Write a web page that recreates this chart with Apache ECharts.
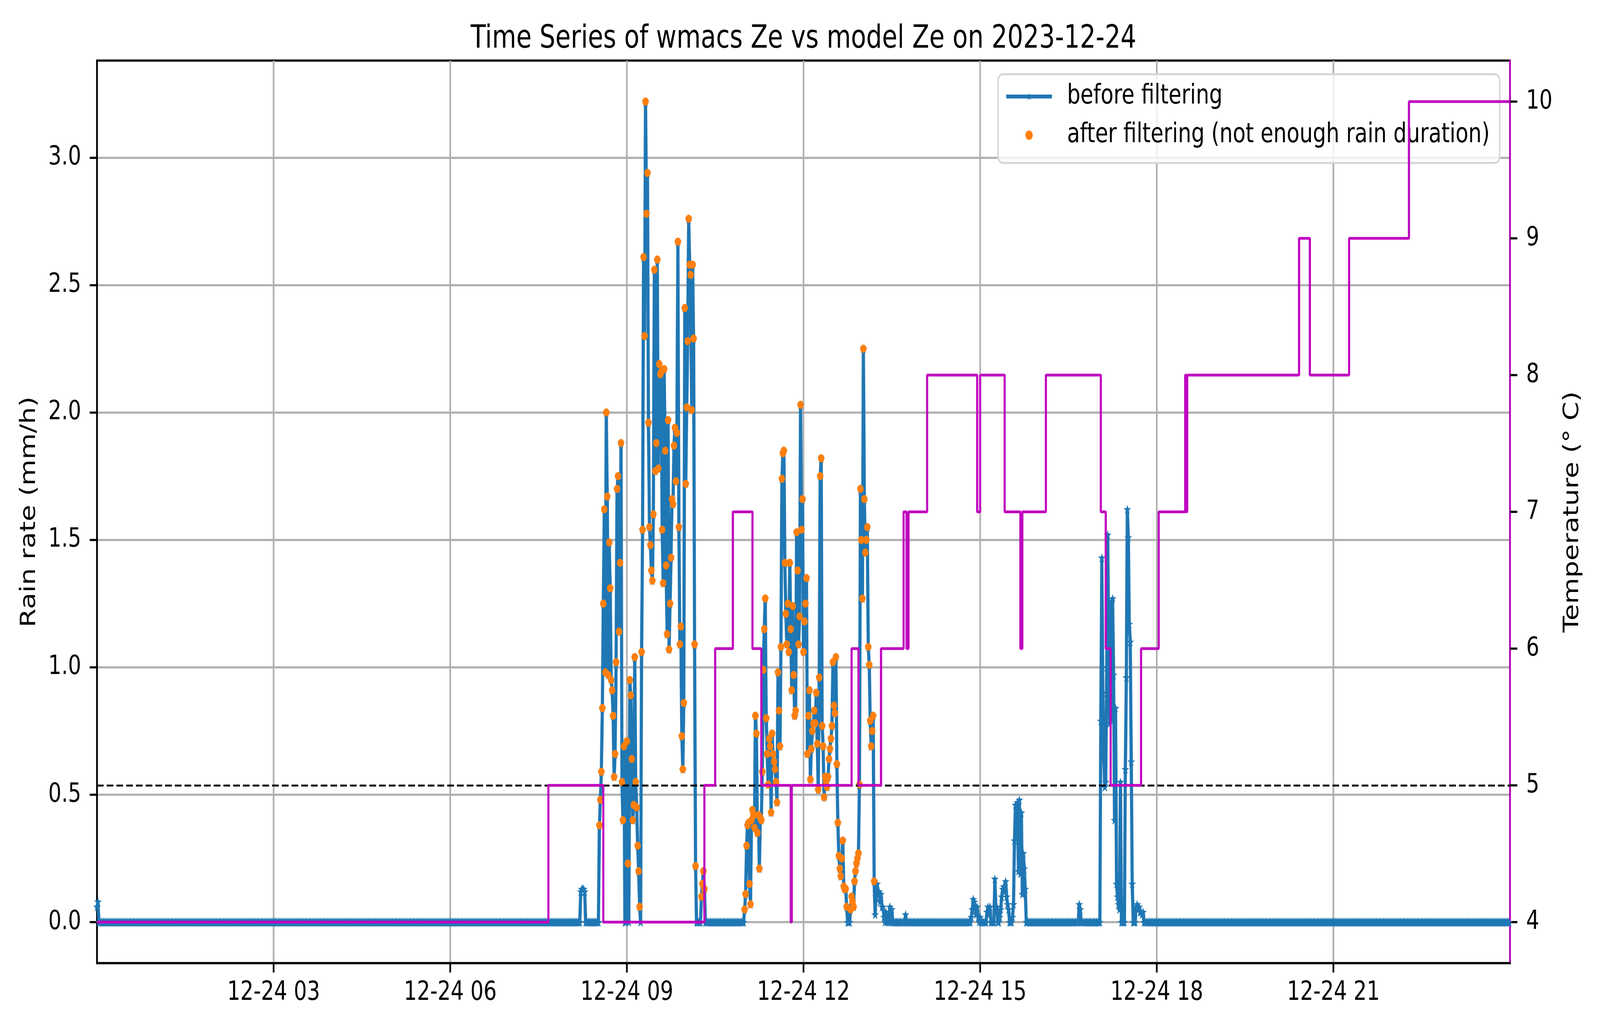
<!DOCTYPE html>
<html>
<head>
<meta charset="utf-8">
<script src="https://cdn.jsdelivr.net/npm/echarts@6/dist/echarts.min.js"></script>
<style>
  html, body { margin: 0; padding: 0; background: #fff; overflow: hidden; }
  #chart { width: 5263px; height: 2631px; transform-origin: 0 0; }
</style>
</head>
<body>
<div id="chart"></div>
<script>
// tick labels
const xTickHours = [3, 6, 9, 12, 15, 18, 21];
const rainTicks = [0, 0.5, 1.0, 1.5, 2.0, 2.5, 3.0];
const tempTicks = [4, 5, 6, 7, 8, 9, 10];

// rain rate (mm/h), one value per minute from each start time; other minutes read as 0
const rainEventStarts = ['00:00', '08:12', '08:31', '10:59', '13:43', '14:50', '16:40', '17:01'];
const rainAtMidnight = [0.06, 0.08, 0.00];
const rainEarlyBlip = [0.00, 0.12, 0.13, 0.13, 0.13, 0.12, 0.00];
const rainMorning = [
  0.00, 0.38, 0.48, 0.59, 0.84, 1.25, 1.62, 0.98, 2.00, 1.67,
  0.97, 1.49, 1.31, 0.95, 0.91, 0.81, 0.57, 0.66, 1.02, 1.70,
  1.75, 1.14, 1.41, 1.88, 0.55, 0.40, 0.69, 0.00, 0.00, 0.71,
  0.23, 0.00, 0.95, 0.89, 0.64, 0.40, 0.46, 1.04, 0.55, 0.45,
  0.30, 0.20, 0.06, 0.00, 1.06, 1.54, 2.61, 2.30, 3.22, 2.78,
  2.94, 1.96, 1.55, 1.48, 1.38, 1.34, 1.60, 2.56, 1.77, 1.88,
  2.60, 1.78, 2.19, 2.15, 2.16, 1.54, 1.33, 2.17, 1.85, 1.40,
  1.13, 1.97, 1.07, 1.25, 1.43, 1.66, 1.64, 1.87, 1.94, 1.73,
  1.92, 2.67, 1.55, 1.09, 1.16, 0.73, 0.60, 0.86, 2.41, 1.72,
  2.02, 2.28, 2.76, 2.58, 2.54, 2.01, 2.58, 2.29, 1.09, 0.22,
  0.00, 0.00, 0.00, 0.00, 0.00, 0.10, 0.15, 0.20, 0.13, 0.00
];
const rainMidday = [
  0.00, 0.05, 0.11, 0.30, 0.38, 0.39, 0.15, 0.07, 0.40, 0.44,
  0.42, 0.37, 0.81, 0.74, 0.35, 0.42, 0.21, 0.41, 0.40, 0.59,
  0.99, 1.15, 1.27, 0.80, 0.66, 0.54, 0.72, 0.69, 0.43, 0.74,
  0.66, 0.63, 0.60, 0.55, 0.47, 0.98, 0.83, 0.69, 1.08, 1.74,
  1.84, 1.85, 1.41, 1.21, 1.09, 1.25, 1.06, 1.41, 1.15, 0.91,
  1.24, 0.97, 0.81, 0.83, 1.53, 1.38, 1.09, 1.20, 2.03, 1.54,
  1.66, 1.06, 1.18, 1.25, 1.35, 0.66, 0.81, 0.91, 0.56, 0.68,
  0.75, 0.78, 0.83, 0.78, 0.90, 0.70, 0.52, 0.96, 1.75, 1.82,
  0.77, 0.69, 0.49, 0.57, 0.55, 0.53, 0.57, 0.64, 0.68, 0.72,
  0.77, 1.02, 0.85, 0.82, 1.04, 0.62, 0.39, 0.26, 0.21, 0.18,
  0.25, 0.32, 0.14, 0.13, 0.13, 0.06, 0.00, 0.00, 0.00, 0.05,
  0.10, 0.08, 0.06, 0.16, 0.20, 0.23, 0.25, 0.27, 0.54, 1.70,
  1.50, 1.27, 2.25, 1.66, 1.45, 1.50, 1.55, 1.08, 1.01, 0.79,
  0.69, 0.75, 0.81, 0.16, 0.03, 0.10, 0.15, 0.12, 0.12, 0.08,
  0.11, 0.06, 0.06, 0.02, 0.00, 0.04, 0.00, 0.02, 0.00, 0.06,
  0.00, 0.05, 0.00
];
const rainAfternoonBlip = [0.00, 0.03, 0.00];
const rainAfternoon = [
  0.00, 0.02, 0.05, 0.09, 0.08, 0.06, 0.03, 0.06, 0.02, 0.00,
  0.02, 0.00, 0.00, 0.00, 0.00, 0.00, 0.00, 0.04, 0.06, 0.03,
  0.06, 0.00, 0.00, 0.00, 0.00, 0.17, 0.06, 0.06, 0.00, 0.00,
  0.02, 0.05, 0.10, 0.13, 0.14, 0.12, 0.16, 0.10, 0.07, 0.05,
  0.00, 0.00, 0.00, 0.02, 0.07, 0.32, 0.46, 0.33, 0.47, 0.20,
  0.48, 0.19, 0.43, 0.11, 0.27, 0.21, 0.13, 0.00
];
const rainLateBlip = [0.00, 0.07, 0.05, 0.00];
const rainEvening = [
  0.00, 0.00, 0.79, 1.43, 0.90, 0.65, 0.53, 0.55, 1.00, 1.52,
  1.09, 0.78, 0.80, 1.26, 1.27, 0.97, 0.40, 0.84, 0.15, 0.10,
  0.07, 0.05, 0.55, 0.00, 0.00, 0.00, 0.00, 0.60, 0.96, 1.62,
  1.51, 1.17, 1.10, 0.63, 0.15, 0.00, 0.00, 0.00, 0.06, 0.07,
  0.05, 0.06, 0.04, 0.04, 0.03, 0.04, 0.00
];
const rainEvents = [rainAtMidnight, rainEarlyBlip, rainMorning, rainMidday,
  rainAfternoonBlip, rainAfternoon, rainLateBlip, rainEvening];

// periods kept after filtering
const filterWindows = [['08:30', '10:20'], ['10:59', '13:12']];

// temperature (deg C), each value holds until the next time
const tempTimes = ['00:00', '07:40', '08:36', '10:19', '10:30', '10:48', '11:08', '11:17', '11:47', '11:48',
  '12:49', '12:56', '13:19', '13:42', '13:45', '13:47', '14:06', '14:57', '15:00', '15:25',
  '15:41', '15:43', '16:07', '17:03', '17:08', '17:13', '17:44', '18:02', '18:29', '18:30',
  '18:31', '20:25', '20:36', '21:16', '22:17', '24:00'];
const tempValues = [4, 5, 4, 5, 6, 7, 6, 5, 4, 5,
  6, 5, 6, 7, 6, 7, 8, 7, 8, 7,
  6, 7, 8, 7, 6, 5, 6, 7, 8, 7,
  8, 9, 8, 9, 10, 10];
const tempLine = 5;

const FONT = 'DejaVu Sans';
const STAR = 'path://M50,0 L61.23,34.55 L97.55,34.55 L68.17,55.9 L79.39,90.45 L50,69.1 L20.61,90.45 L31.83,55.9 L2.45,34.55 L38.77,34.55 Z';

// the chart is laid out at 5263 x 2631 and fitted to the window
const el = document.getElementById('chart');
el.style.transform = 'scale(' + (window.innerWidth / 5263) + ',' + (window.innerHeight / 2631) + ')';

function toMinutes(s) {
  const p = s.split(':');
  return Number(p[0]) * 60 + Number(p[1]);
}

// build the per-minute series
const byMinute = new Map();
rainEvents.forEach(function (vals, i) {
  const start = toMinutes(rainEventStarts[i]);
  vals.forEach(function (v, j) { byMinute.set(start + j, v); });
});
const beforeData = [];
for (let m = 0; m < 1440; m++) {
  beforeData.push([m / 60, byMinute.has(m) ? byMinute.get(m) : 0]);
}
const afterData = beforeData.filter(function (d) {
  return d[1] > 0 && filterWindows.some(function (w) {
    return d[0] >= toMinutes(w[0]) / 60 && d[0] <= toMinutes(w[1]) / 60;
  });
});
const tempData = tempTimes.map(function (t, i) { return [toMinutes(t) / 60, tempValues[i]]; });

const chart = echarts.init(el, null, { renderer: 'canvas', width: 5263, height: 2631 });

const tickStyle = { show: true, length: 24, lineStyle: { color: '#000', width: 5.5 } };
const labelStyle = { fontFamily: FONT, fontSize: 68, color: '#000' };

chart.setOption({
  animation: false,
  backgroundColor: '#fff',
  title: {
    text: 'Time Series of wmacs Ze vs model Ze on 2023-12-24',
    left: 2643,
    top: 60,
    textAlign: 'center',
    padding: 0,
    textStyle: { fontFamily: FONT, fontSize: 82, fontWeight: 'normal', color: '#000' }
  },
  grid: {
    left: 319, top: 155, width: 4648, height: 2310,
    show: true, borderColor: '#000', borderWidth: 5.5, backgroundColor: 'transparent'
  },
  // legend frame
  graphic: [{
    type: 'rect',
    z: 4,
    shape: { x: 3283, y: 190, width: 1650, height: 227, r: 16 },
    style: { fill: 'rgba(255,255,255,0.8)', stroke: '#d6d6d6', lineWidth: 5 }
  }],
  legend: {
    orient: 'vertical',
    left: 3283,
    top: 188,
    padding: [24, 32, 34, 22],
    itemWidth: 150,
    itemHeight: 24,
    itemGap: 29,
    borderWidth: 0,
    z: 5,
    textStyle: { fontFamily: FONT, fontSize: 69, color: '#000', lineHeight: 70, padding: [0, 0, 0, 45] },
    data: [
      { name: 'before filtering', lineStyle: { width: 10, color: '#1f77b4' } },
      { name: 'after filtering (not enough rain duration)', icon: 'circle' }
    ]
  },
  xAxis: {
    type: 'value',
    min: 0,
    max: 24,
    interval: 3,
    axisLine: { show: true, onZero: false, lineStyle: { color: '#000', width: 5.5 } },
    axisTick: Object.assign({ customValues: xTickHours }, tickStyle),
    axisLabel: Object.assign({
      customValues: xTickHours,
      margin: 42,
      formatter: function (v) {
        return (v > 0 && v < 24) ? '12-24 ' + String(v).padStart(2, '0') : '';
      }
    }, labelStyle),
    splitLine: { show: true, lineStyle: { color: '#b0b0b0', width: 5.5 } }
  },
  yAxis: [
    {
      type: 'value',
      position: 'left',
      min: -0.161,
      max: 3.381,
      splitNumber: 7,
      axisLine: { show: true, onZero: false, lineStyle: { color: '#000', width: 5.5 } },
      axisTick: Object.assign({ customValues: rainTicks }, tickStyle),
      axisLabel: Object.assign({
        customValues: rainTicks,
        margin: 52,
        formatter: function (v) { return v.toFixed(1); }
      }, labelStyle),
      splitLine: { show: true, lineStyle: { color: '#b0b0b0', width: 5.5 } },
      name: 'Rain rate (mm/h)',
      nameLocation: 'middle',
      nameRotate: 90,
      nameGap: 187,
      nameTextStyle: { fontFamily: FONT, fontSize: 69, color: '#000' }
    },
    {
      type: 'value',
      position: 'right',
      min: 3.7,
      max: 10.3,
      splitNumber: 6,
      axisLine: { show: true, onZero: false, lineStyle: { color: '#bf00bf', width: 5.5 } },
      axisTick: Object.assign({ customValues: tempTicks }, tickStyle),
      axisLabel: Object.assign({
        customValues: tempTicks,
        margin: 53,
        formatter: function (v) { return String(v); }
      }, labelStyle),
      splitLine: { show: false },
      name: 'Temperature (° C)',
      nameLocation: 'middle',
      nameRotate: 90,
      nameGap: 172,
      nameTextStyle: { fontFamily: FONT, fontSize: 69, color: '#000' }
    }
  ],
  series: [
    {
      name: 'before filtering',
      type: 'line',
      xAxisIndex: 0,
      yAxisIndex: 0,
      data: beforeData,
      z: 2,
      color: '#1f77b4',
      symbol: STAR,
      symbolKeepAspect: true,
      symbolSize: 25,
      showSymbol: true,
      showAllSymbol: true,
      lineStyle: { color: '#1f77b4', width: 10.5, join: 'round' },
      itemStyle: { color: '#1f77b4' },
      emphasis: { disabled: true }
    },
    {
      name: 'after filtering (not enough rain duration)',
      type: 'scatter',
      xAxisIndex: 0,
      yAxisIndex: 0,
      data: afterData,
      z: 3,
      color: '#ff7f0e',
      symbol: 'circle',
      symbolSize: 21,
      itemStyle: { color: '#ff7f0e', opacity: 1 },
      emphasis: { disabled: true }
    },
    {
      name: 'Temperature',
      type: 'line',
      xAxisIndex: 0,
      yAxisIndex: 1,
      data: tempData,
      step: 'end',
      z: 6,
      showSymbol: false,
      symbol: 'none',
      lineStyle: { color: '#bf00bf', width: 7 },
      itemStyle: { color: '#bf00bf' },
      emphasis: { disabled: true },
      markLine: {
        silent: true,
        symbol: 'none',
        label: { show: false },
        lineStyle: { color: '#000', width: 5, type: [22, 10] },
        data: [{ yAxis: tempLine }]
      }
    }
  ]
});
</script>
</body>
</html>
